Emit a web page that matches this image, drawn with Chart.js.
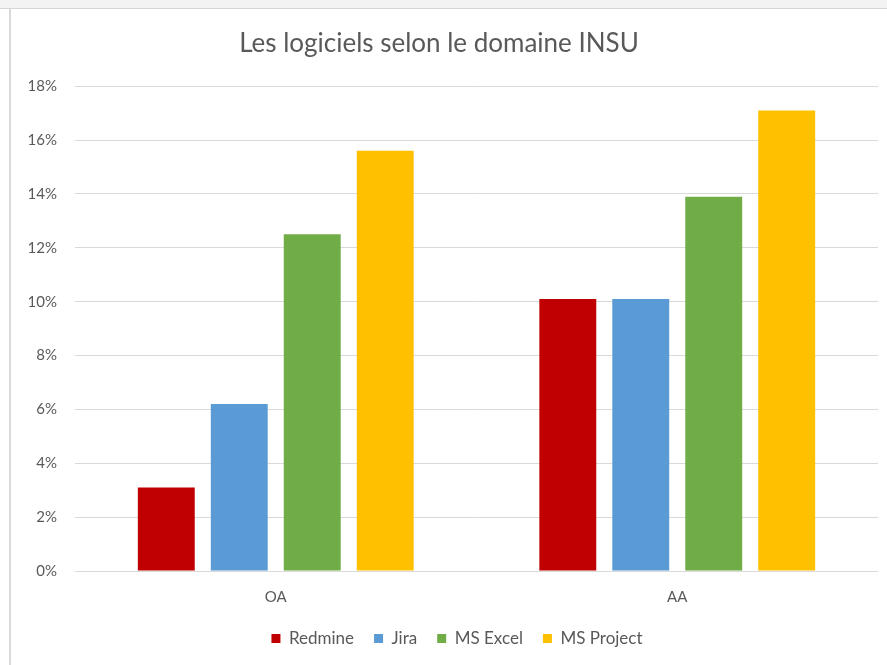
<!DOCTYPE html>
<html lang="fr">
<head>
    <meta charset="UTF-8">
    <title>Les logiciels selon le domaine INSU</title>
    <script src="https://cdn.jsdelivr.net/npm/chart.js"></script>
    <style>
        html, body {
            margin: 0;
            padding: 0;
            width: 887px;
            height: 665px;
            overflow: hidden;
            background: #ffffff;
        }
        .top-band {
            position: absolute;
            left: 0;
            top: 0;
            width: 887px;
            height: 8px;
            background: #f3f3f3;
            border-bottom: 1px solid #d6d6d6;
        }
        .left-edge {
            position: absolute;
            left: 9px;
            top: 9px;
            width: 2px;
            height: 656px;
            background: #d9d9d9;
        }
        .chart-box {
            position: absolute;
            left: 0;
            top: 0;
            width: 887px;
            height: 665px;
        }
    </style>
</head>
<body>
    <div class="top-band"></div>
    <div class="left-edge"></div>
    <div class="chart-box">
        <canvas id="chart" width="887" height="665"></canvas>
    </div>

    <script>
        // data (percent)
        const categories = ['OA', 'AA'];
        const seriesNames = ['Redmine', 'Jira', 'MS Excel', 'MS Project'];
        const redmine = [3.1, 10.1];
        const jira = [6.2, 10.1];
        const msExcel = [12.5, 13.9];
        const msProject = [15.6, 17.1];
        const yTicks = [0, 2, 4, 6, 8, 10, 12, 14, 16, 18];

        const colors = ['#C00000', '#5B9BD5', '#70AD47', '#FFC000'];
        const textColor = '#595959';
        const fontFamily = 'Lato, "Open Sans", sans-serif';

        // the legend in the original sits a bit right of the centre
        const legendShift = {
            id: 'legendShift',
            afterLayout(chart) {
                chart.legend.left += 18;
                chart.legend.right += 18;
            }
        };

        const ctx = document.getElementById('chart').getContext('2d');
        const chart = new Chart(ctx, {
            type: 'bar',
            data: {
                labels: categories,
                datasets: [redmine, jira, msExcel, msProject].map((values, i) => ({
                    label: seriesNames[i],
                    data: values,
                    backgroundColor: colors[i],
                    borderWidth: 0,
                    categoryPercentage: 0.727,
                    barPercentage: 0.78
                }))
            },
            plugins: [legendShift],
            options: {
                responsive: false,
                animation: false,
                devicePixelRatio: 1,
                layout: {
                    padding: { left: 0, right: 9, top: 0, bottom: 8 }
                },
                plugins: {
                    title: {
                        display: true,
                        text: 'Les logiciels selon le domaine INSU',
                        color: textColor,
                        font: { family: fontFamily, size: 26, weight: 'normal', lineHeight: 1.2 },
                        padding: { top: 28, bottom: 27 }
                    },
                    legend: {
                        position: 'bottom',
                        labels: {
                            color: textColor,
                            font: { family: fontFamily, size: 17 },
                            boxWidth: 9,
                            boxHeight: 9,
                            padding: 20
                        }
                    },
                    tooltip: { enabled: false }
                },
                scales: {
                    x: {
                        afterFit: scale => {
                            scale.height = 39;
                        },
                        grid: { display: false, drawTicks: false },
                        border: { display: false },
                        ticks: {
                            color: textColor,
                            font: { family: fontFamily, size: 15 },
                            padding: 17
                        }
                    },
                    y: {
                        min: 0,
                        max: 18,
                        afterBuildTicks: scale => {
                            scale.ticks = yTicks.map(v => ({ value: v }));
                        },
                        afterFit: scale => {
                            scale.width = 75;
                        },
                        grid: {
                            color: '#d9d9d9',
                            lineWidth: 1,
                            drawTicks: false
                        },
                        border: { display: false },
                        ticks: {
                            color: textColor,
                            font: { family: fontFamily, size: 15 },
                            padding: 18,
                            callback: v => v + '%'
                        }
                    }
                }
            }
        });
    </script>
</body>
</html>
